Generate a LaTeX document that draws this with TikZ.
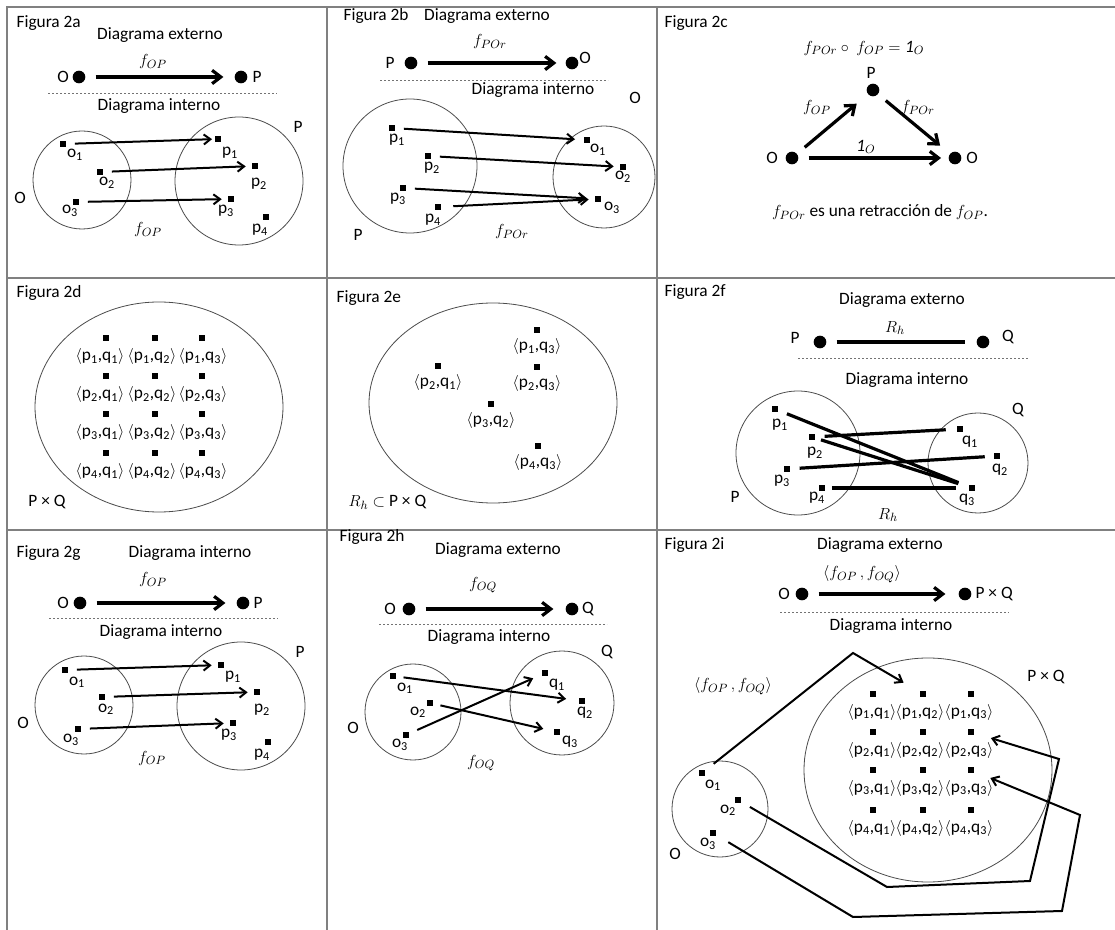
\documentclass[tikz,border=0pt]{standalone}
\usepackage{fontspec}
\setmainfont{Carlito}
\usetikzlibrary{arrows.meta}

\newcommand{\ssub}[2]{#1\textsubscript{#2}}
\newcommand{\pair}[2]{$\langle$\ssub{p}{#1},\ssub{q}{#2}$\rangle$}
% elemento: nombre, posicion del cuadrado, posicion del texto, texto
\newcommand{\elem}[4]{\node[elem] (#1) at (#2) {}; \node (#1-t) at (#3) {#4};}

\begin{document}
\begin{tikzpicture}[x=0.75pt, y=-0.75pt,
  every node/.style={font=\fontsize{13}{15}\selectfont, inner sep=1pt},
  gridline/.style={draw=gray, line width=1.1pt},
  setcirc/.style={draw=black!70, line width=0.6pt},
  elem/.style={rectangle, fill=black, minimum width=4.5pt, minimum height=5.2pt, inner sep=0pt},
  bigdot/.style={circle, fill=black, minimum size=9.5pt, inner sep=0pt},
  sepline/.style={draw=black!55, line width=0.5pt, dash pattern=on 1.8pt off 1.2pt},
  extarrow/.style={line width=2.4pt, -{Straight Barb[length=6.5pt, width=10pt]}, shorten <=7.5pt, shorten >=8.25pt},
  intarrow/.style={line width=1.5pt, -{Straight Barb[length=5pt, width=7.5pt]}, shorten <=6.5pt, shorten >=4.5pt},
  relline/.style={line width=2.4pt, shorten <=7pt, shorten >=8.25pt}]
\useasboundingbox (0,0) rectangle (1115,930);

% Cuadricula
\draw[gridline] (7,930) -- (7,7) -- (1115,7);
\draw[gridline] (7,278) -- (1115,278);
\draw[gridline] (7,530) -- (1115,530);
\draw[gridline] (327,7) -- (327,930);
\draw[gridline] (657,7) -- (657,930);

% Figura 2a
\node[anchor=west] (a-tit) at (15,23) {Figura 2a};
\node (a-ext) at (160,35) {Diagrama externo};
\node (a-f) at (153,62) {$f_{OP}$};
\node (a-Ot) at (63,77) {O};
\node[bigdot] (a-O) at (79,77) {};
\node[bigdot] (a-P) at (241,77) {};
\node (a-Pt) at (257,77) {P};
\draw[extarrow] (a-O) -- (a-P);
\draw[sepline] (48,93) -- (277,93);
\node (a-int) at (159,106) {Diagrama interno};
\draw[setcirc] (82,180) circle[radius=49];
\draw[setcirc] (239,181) circle[radius=64];
\node (a-Oset) at (20,198) {O};
\node (a-Pset) at (298,127) {P};
\elem{a-o1}{63,144}{75,155}{\ssub{o}{1}}
\elem{a-o2}{100,172}{107,183}{\ssub{o}{2}}
\elem{a-o3}{76,202}{70,211}{\ssub{o}{3}}
\elem{a-p1}{218,139}{230,153}{\ssub{p}{1}}
\elem{a-p2}{255,166}{259,184}{\ssub{p}{2}}
\elem{a-p3}{231,199}{226,211}{\ssub{p}{3}}
\elem{a-p4}{266,217}{260,230}{\ssub{p}{4}}
\draw[intarrow, shorten >=2pt] (a-o1) -- (a-p1);
\draw[intarrow] (a-o2) -- (a-p2);
\draw[intarrow] (a-o3) -- (a-p3);
\node (a-fb) at (148,230) {$f_{OP}$};

% Figura 2b
\node[anchor=west] (b-tit) at (342,16) {Figura 2b};
\node (b-ext) at (487,16) {Diagrama externo};
\node (b-f) at (490,42) {$f_{POr}$};
\node (b-Pt) at (390,63) {P};
\node[bigdot] (b-P) at (411,63) {};
\node[bigdot] (b-O) at (572,63) {};
\node (b-Ot) at (585,58) {O};
\draw[extarrow, shorten >=6.75pt] (b-P) -- (b-O);
\draw[sepline] (380,80) -- (608,80);
\node (b-int) at (533,90) {Diagrama interno};
\draw[setcirc] (410,166) circle[radius=67];
\draw[setcirc] (604,177) circle[radius=51];
\node (b-Oset) at (635,98) {O};
\node (b-Pset) at (358,235) {P};
\elem{b-p1}{392,128}{397,140}{\ssub{p}{1}}
\elem{b-p2}{428,156}{432,168}{\ssub{p}{2}}
\elem{b-p3}{403,188}{398,199}{\ssub{p}{3}}
\elem{b-p4}{438,207}{433,220}{\ssub{p}{4}}
\elem{b-o1}{587,140}{598,150}{\ssub{o}{1}}
\elem{b-o2}{623,167}{623,177}{\ssub{o}{2}}
\elem{b-o3}{598,199}{612,208}{\ssub{o}{3}}
\draw[intarrow, shorten >=6.5pt] (b-p1) -- (b-o1);
\draw[intarrow] (b-p2) -- (b-o2);
\draw[intarrow, shorten >=6pt] (b-p3) -- (b-o3);
\draw[intarrow, shorten <=9pt] (b-p4) -- (b-o3);
\node (b-fb) at (512,232) {$f_{POr}$};

% Figura 2c
\node[anchor=west] (c-tit) at (663,23) {Figura 2c};
\node (c-eq) at (864,48) {$f_{POr}\circ\ f_{OP} = \mathit{1}_O$};
\node (c-Pt) at (871,73) {P};
\node[bigdot] (c-P) at (873,90) {};
\node[bigdot] (c-O1) at (792,158) {};
\node[bigdot] (c-O2) at (955,158) {};
\node (c-O1t) at (772,158) {O};
\node (c-O2t) at (972,158) {O};
\draw[extarrow, shorten >=11pt] (c-O1) -- (c-P);
\draw[extarrow, shorten >=9.5pt] (c-P) -- (c-O2);
\draw[extarrow, shorten >=5.5pt] (c-O1) -- (c-O2);
\node (c-fop) at (817,108) {$f_{OP}$};
\node (c-fpo) at (918,108) {$f_{POr}$};
\node (c-id) at (866,147) {$\mathit{1}_O$};
\node (c-txt) at (880,212) {$f_{POr}$\ es una retracción de $f_{OP}$.};

% Figura 2d
\node[anchor=west] (d-tit) at (15,293) {Figura 2d};
\draw[setcirc] (159,407) ellipse[x radius=124, y radius=105];
\foreach \i/\y in {1/338,2/376,3/414,4/453}
  \foreach \j/\x/\tx in {1/106/100,2/155/152,3/202/203} {
    \node[elem] (d-\i\j) at (\x,\y) {};
    \node (d-\i\j-t) at (\tx,\y+19) {\pair{\i}{\j}};
  }
\node (d-PQ) at (47,502) {P × Q};

% Figura 2e
\node[anchor=west] (e-tit) at (335,298) {Figura 2e};
\draw[setcirc] (493,403) ellipse[x radius=124, y radius=100];
\elem{e-13}{537,330}{537,347}{\pair{1}{3}}
\elem{e-21}{438,366}{438,383}{\pair{2}{1}}
\elem{e-23}{537,367}{537,384}{\pair{2}{3}}
\elem{e-32}{491,404}{491,421}{\pair{3}{2}}
\elem{e-43}{538,446}{538,463}{\pair{4}{3}}
\node[anchor=west] (e-R) at (347,502) {$R_h\subset$ P × Q};

% Figura 2f
\node[anchor=west] (f-tit) at (663,292) {Figura 2f};
\node (f-ext) at (902,300) {Diagrama externo};
\node (f-R) at (895,328) {$R_h$};
\node (f-Pt) at (795,338) {P};
\node[bigdot] (f-P) at (820,342) {};
\node[bigdot] (f-Q) at (983,342) {};
\node (f-Qt) at (1008,337) {Q};
\draw[relline, shorten <=7.5pt] (f-P) -- (f-Q);
\draw[sepline] (798,358) -- (1028,358);
\node (f-int) at (907,380) {Diagrama interno};
\draw[setcirc] (798,453) circle[radius=62];
\draw[setcirc] (978,463) circle[radius=50];
\node (f-Pset) at (735,497) {P};
\node (f-Qset) at (1018,410) {Q};
\elem{f-p1}{775,409}{780,425}{\ssub{p}{1}}
\elem{f-p2}{812,437}{815,453}{\ssub{p}{2}}
\elem{f-p3}{787,469}{782,481}{\ssub{p}{3}}
\elem{f-p4}{822,488}{817,498}{\ssub{p}{4}}
\elem{f-q1}{960,429}{970,442}{\ssub{q}{1}}
\elem{f-q2}{997,456}{1000,470}{\ssub{q}{2}}
\elem{f-q3}{972,488}{967,500}{\ssub{q}{3}}
\draw[relline] (f-p1) -- (f-q3);
\draw[relline] (f-p2) -- (f-q1);
\draw[relline, shorten <=4.5pt] (f-p2) -- (f-q3);
\draw[relline, shorten >=6.75pt] (f-p3) -- (f-q2);
\draw[relline, shorten <=5pt, shorten >=9.5pt] (f-p4) -- (f-q3);
\node (f-Rb) at (888,515) {$R_h$};

% Figura 2g
\node[anchor=west] (g-tit) at (15,553) {Figura 2g};
\node (g-ext) at (190,553) {Diagrama interno};
\node (g-f) at (153,580) {$f_{OP}$};
\node (g-Ot) at (63,603) {O};
\node[bigdot] (g-O) at (80,603) {};
\node[bigdot] (g-P) at (243,603) {};
\node (g-Pt) at (258,603) {P};
\draw[extarrow] (g-O) -- (g-P);
\draw[sepline] (49,618) -- (278,618);
\node (g-int) at (161,632) {Diagrama interno};
\draw[setcirc] (84,705) circle[radius=49];
\draw[setcirc] (241,706) circle[radius=64];
\node (g-Oset) at (23,723) {O};
\node (g-Pset) at (300,652) {P};
\elem{g-o1}{65,670}{77,682}{\ssub{o}{1}}
\elem{g-o2}{102,697}{106,709}{\ssub{o}{2}}
\elem{g-o3}{78,729}{71,740}{\ssub{o}{3}}
\elem{g-p1}{221,665}{233,677}{\ssub{p}{1}}
\elem{g-p2}{257,692}{262,710}{\ssub{p}{2}}
\elem{g-p3}{233,723}{229,735}{\ssub{p}{3}}
\elem{g-p4}{268,742}{262,755}{\ssub{p}{4}}
\draw[intarrow] (g-o1) -- (g-p1);
\draw[intarrow] (g-o2) -- (g-p2);
\draw[intarrow] (g-o3) -- (g-p3);
\node (g-fb) at (152,758) {$f_{OP}$};

% Figura 2h
\node[anchor=west] (h-tit) at (338,537) {Figura 2h};
\node (h-ext) at (498,550) {Diagrama externo};
\node (h-f) at (483,585) {$f_{OQ}$};
\node (h-Ot) at (390,609) {O};
\node[bigdot] (h-O) at (409,609) {};
\node[bigdot] (h-Q) at (572,609) {};
\node (h-Qt) at (588,609) {Q};
\draw[extarrow, shorten >=9pt] (h-O) -- (h-Q);
\draw[sepline] (379,624) -- (607,624);
\node (h-int) at (489,637) {Diagrama interno};
\draw[setcirc] (413,712) circle[radius=48];
\draw[setcirc] (562,703) circle[radius=52];
\node (h-Oset) at (353,728) {O};
\node (h-Qset) at (607,652) {Q};
\elem{h-o1}{393,676}{405,688}{\ssub{o}{1}}
\elem{h-o2}{430,703}{418,712}{\ssub{o}{2}}
\elem{h-o3}{406,735}{400,745}{\ssub{o}{3}}
\elem{h-q1}{545,673}{557,685}{\ssub{q}{1}}
\elem{h-q2}{582,701}{585,713}{\ssub{q}{2}}
\elem{h-q3}{557,732}{570,742}{\ssub{q}{3}}
\draw[intarrow, shorten <=5.5pt, shorten >=9.5pt] (h-o1) -- (h-q2);
\draw[intarrow, shorten <=5.5pt, shorten >=8pt] (h-o2) -- (h-q3);
\draw[intarrow, shorten >=7pt] (h-o3) -- (h-q1);
\node (h-fb) at (481,763) {$f_{OQ}$};

% Figura 2i
\node[anchor=west] (i-tit) at (663,545) {Figura 2i};
\node (i-ext) at (880,545) {Diagrama externo};
\node (i-f) at (862,574) {$\langle f_{OP}\,, f_{OQ}\rangle$};
\node (i-Ot) at (784,594) {O};
\node[bigdot] (i-O) at (802,594) {};
\node[bigdot] (i-PQ) at (965,594) {};
\node[anchor=west] (i-PQt) at (974,594) {P × Q};
\draw[extarrow, shorten >=9.75pt] (i-O) -- (i-PQ);
\draw[sepline] (780,612) -- (1009,612);
\node (i-int) at (891,626) {Diagrama interno};
\node (i-fl) at (733,686) {$\langle f_{OP}\,, f_{OQ}\rangle$};
\draw[setcirc] (928,770) ellipse[x radius=124, y radius=112];
\node (i-PQset) at (1046,677) {P × Q};
\foreach \i/\y in {1/694,2/732,3/770,4/810}
  \foreach \j/\x/\tx in {1/873/872,2/923/920,3/971/969} {
    \node[elem] (i-\i\j) at (\x,\y) {};
    \node (i-\i\j-t) at (\tx,\y+18) {\pair{\i}{\j}};
  }
\draw[setcirc] (720,809) circle[radius=48];
\node (i-Oset) at (675,854) {O};
\elem{i-o1}{702,773}{713,785}{\ssub{o}{1}}
\elem{i-o2}{738,800}{728,810}{\ssub{o}{2}}
\elem{i-o3}{713,833}{708,844}{\ssub{o}{3}}
\coordinate (i-c1) at (853,653);
\coordinate (i-c2a) at (887,887);
\coordinate (i-c2b) at (1030,881);
\coordinate (i-c2c) at (1059,759);
\coordinate (i-c3a) at (853,917);
\coordinate (i-c3b) at (1062,911);
\coordinate (i-c3c) at (1080,815);
\draw[intarrow, shorten <=8pt, shorten >=14pt] (i-o1) -- (i-c1) -- (i-12);
\draw[intarrow, shorten <=7.5pt, shorten >=13pt] (i-o2) -- (i-c2a) -- (i-c2b) -- (i-c2c) -- (i-23);
\draw[intarrow, shorten <=10.5pt, shorten >=13pt] (i-o3) -- (i-c3a) -- (i-c3b) -- (i-c3c) -- (i-33);
\end{tikzpicture}
\end{document}
